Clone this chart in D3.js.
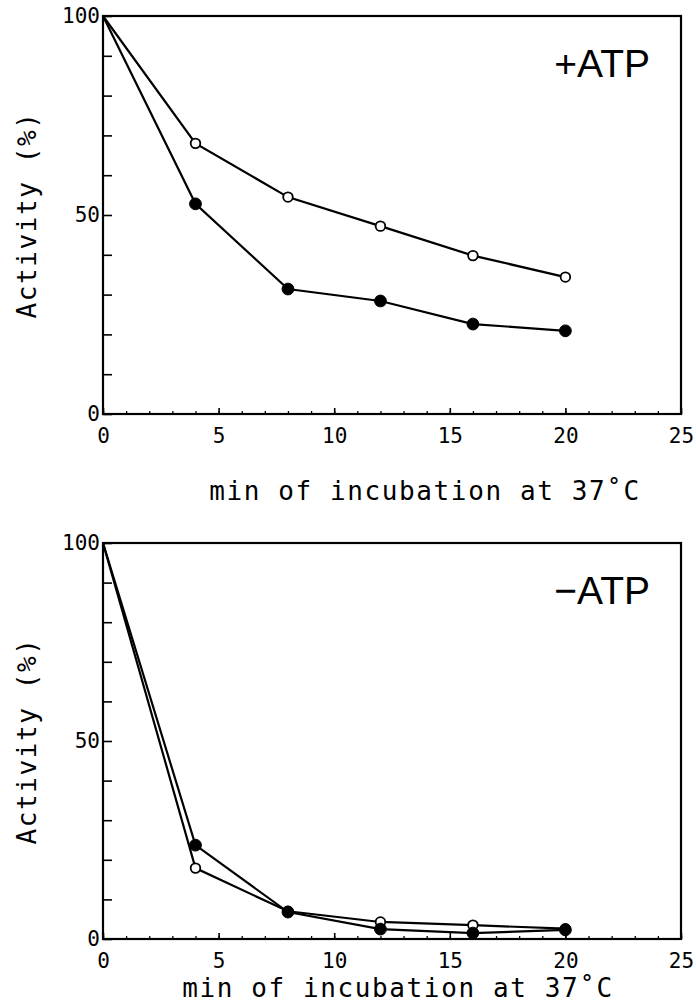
<!DOCTYPE html>
<html>
<head>
<meta charset="utf-8">
<script src="https://cdn.jsdelivr.net/npm/d3@7"></script>
<style>
    body { margin: 0; background: #fff; }
    .tick text { font-family: "DejaVu Sans Mono", monospace; font-size: 21px; fill: #000; }
    .axTitle { font-family: "DejaVu Sans Mono", monospace; font-size: 26px; letter-spacing: 1.6px; fill: #000; }
    .panelLabel { font-family: "Liberation Sans", Arial, sans-serif; font-size: 39px; fill: #000; }
</style>
</head>
<body>
<script>
//time points (min of incubation at 37 C)
var minutes = [0, 4, 8, 12, 16, 20];

//+ATP panel, activity (%)
var plusOpen = [100, 68, 54.5, 47.2, 39.8, 34.4];
var plusFilled = [100, 52.8, 31.4, 28.4, 22.6, 20.9];

//-ATP panel, activity (%)
var minusOpen = [100, 17.9, 7.0, 4.3, 3.5, 2.6];
var minusFilled = [100, 23.7, 6.8, 2.5, 1.5, 2.3];

//axis ticks
var xLabels = [0, 5, 10, 15, 20, 25];
var yLabels = [0, 50, 100];

var panelNames = ["+ATP", "\u2212ATP"];
var xTitle = "min of incubation at 37\u02daC";
var yTitle = "Activity (%)";

window.onload = setChart();

function setChart(){

    var width = 696,
        height = 1003;

    var svg = d3.select("body")
        .append("svg")
        .attr("width", width)
        .attr("height", height);

    //shared x scale
    var x = d3.scaleLinear()
        .domain([0, 25])
        .range([103, 681]);

    //panel frames (top, bottom pixel of each plot)
    var panels = [
        { name: panelNames[0], top: 16, bottom: 414, open: plusOpen, filled: plusFilled, titleY: 500, titleX: 425 },
        { name: panelNames[1], top: 543, bottom: 939, open: minusOpen, filled: minusFilled, titleY: 997, titleX: 398 }
    ];

    panels.forEach(function(p){

        var y = d3.scaleLinear()
            .domain([0, 100])
            .range([p.bottom, p.top]);

        var g = svg.append("g");

        //minor x ticks every 1 min, pointing inward
        g.append("g")
            .attr("transform", "translate(0," + p.bottom + ")")
            .call(d3.axisTop(x).tickValues(d3.range(0, 26, 1)).tickSize(3).tickFormat(""))
            .call(function(a){ a.select(".domain").remove(); })
            .selectAll("line").attr("stroke-width", 1.3);

        //major x ticks with labels below
        var xa = g.append("g")
            .attr("transform", "translate(0," + p.bottom + ")")
            .call(d3.axisBottom(x).tickValues(xLabels).tickSize(0).tickPadding(14).tickFormat(d3.format("d")));
        xa.select(".domain").remove();
        xa.selectAll("text").attr("dy", "0.71em");
        g.append("g")
            .attr("transform", "translate(0," + p.bottom + ")")
            .call(d3.axisTop(x).tickValues(xLabels).tickSize(6).tickFormat(""))
            .call(function(a){ a.select(".domain").remove(); })
            .selectAll("line").attr("stroke-width", 1.6);

        //y ticks every 10, pointing inward
        g.append("g")
            .attr("transform", "translate(" + x(0) + ",0)")
            .call(d3.axisRight(y).tickValues(d3.range(0, 101, 10)).tickSize(9).tickFormat(""))
            .call(function(a){ a.select(".domain").remove(); })
            .selectAll("line").attr("stroke-width", 1.6);

        //y labels
        var ya = g.append("g")
            .attr("transform", "translate(" + (x(0) - 3) + ",0)")
            .call(d3.axisLeft(y).tickValues(yLabels).tickSize(0).tickPadding(0).tickFormat(d3.format("d")));
        ya.select(".domain").remove();

        //frame
        g.append("rect")
            .attr("x", x(0))
            .attr("y", p.top)
            .attr("width", x(25) - x(0))
            .attr("height", p.bottom - p.top)
            .attr("fill", "none")
            .attr("stroke", "#000")
            .attr("stroke-width", 2.2);

        //data lines
        var line = d3.line()
            .x(function(d){ return x(d[0]); })
            .y(function(d){ return y(d[1]); });

        //open series first so the filled dots sit on top
        var series = [
            { vals: p.open, open: true },
            { vals: p.filled, open: false }
        ];

        series.forEach(function(s){
            var pts = minutes.map(function(m, i){ return [m, s.vals[i]]; });

            g.append("path")
                .datum(pts)
                .attr("d", line)
                .attr("fill", "none")
                .attr("stroke", "#000")
                .attr("stroke-width", 2.2);

            //markers (none at the origin corner)
            g.selectAll(null)
                .data(pts.filter(function(d){ return d[0] > 0; }))
                .enter()
                .append("circle")
                .attr("cx", function(d){ return x(d[0]); })
                .attr("cy", function(d){ return y(d[1]); })
                .attr("r", s.open ? 4.8 : 5.9)
                .attr("fill", s.open ? "#fff" : "#000")
                .attr("stroke", "#000")
                .attr("stroke-width", s.open ? 1.8 : 1);
        });

        //panel label
        g.append("text")
            .attr("class", "panelLabel")
            .attr("x", 650)
            .attr("y", p.top + 61)
            .attr("text-anchor", "end")
            .text(p.name);

        //x title
        g.append("text")
            .attr("class", "axTitle")
            .attr("x", p.titleX)
            .attr("y", p.titleY)
            .attr("text-anchor", "middle")
            .text(xTitle);

        //y title, rotated
        g.append("text")
            .attr("class", "axTitle")
            .attr("transform", "translate(36," + ((p.top + p.bottom) / 2) + ") rotate(-90)")
            .attr("text-anchor", "middle")
            .text(yTitle);
    });
};
</script>
</body>
</html>
